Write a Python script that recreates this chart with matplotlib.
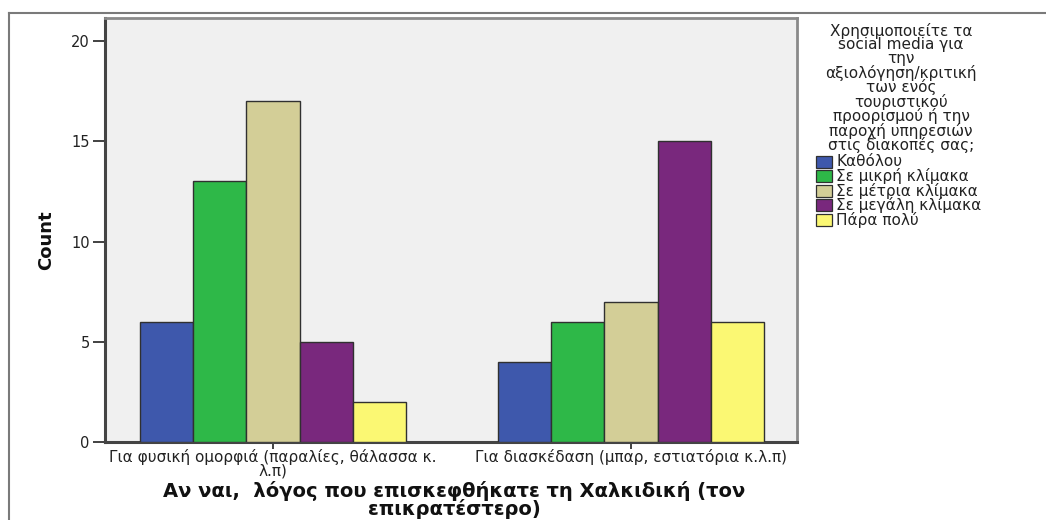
import matplotlib
matplotlib.use("Agg")
import matplotlib.pyplot as plt
from matplotlib.patches import Rectangle
from matplotlib.lines import Line2D
import numpy as np

plt.rcParams['font.family'] = ['DejaVu Sans']

categories = [
    "Για φυσική ομορφιά (παραλίες, θάλασσα κ.\nλ.π)",
    "Για διασκέδαση (μπαρ, εστιατόρια κ.λ.π)",
]
series_names = ["Καθόλου", "Σε μικρή κλίμακα", "Σε μέτρια κλίμακα",
                "Σε μεγάλη κλίμακα", "Πάρα πολύ"]
counts = [
    [6, 4],    # Καθόλου
    [13, 6],   # Σε μικρή κλίμακα
    [17, 7],   # Σε μέτρια κλίμακα
    [5, 15],   # Σε μεγάλη κλίμακα
    [2, 6],    # Πάρα πολύ
]
colors = ["#3e58ac", "#2eb848", "#d3ce97", "#79287d", "#fbf873"]
yticks = [0, 5, 10, 15, 20]

legend_title = ("Χρησιμοποιείτε τα\nsocial media για\nτην\nαξιολόγηση/κριτική\n"
                "των ενός\nτουριστικού\nπροορισμού ή την\nπαροχή υπηρεσιών\n"
                "στις διακοπές σας;")
x_title = "Αν ναι,  λόγος που επισκεφθήκατε τη Χαλκιδική (τον\nεπικρατέστερο)"

W, H = 1046, 520
fig = plt.figure(figsize=(W / 100, H / 100), dpi=100)
fig.patch.set_facecolor("white")


def fx(px):
    return px / W


def fy(py):
    return 1 - py / H


# outer chart frame (left and top edges)
frame_c = "#7a7a7a"
fig.add_artist(Line2D([fx(9), fx(9)], [0, fy(13)], transform=fig.transFigure,
                      color=frame_c, lw=1.5))
fig.add_artist(Line2D([fx(9), 1], [fy(13), fy(13)], transform=fig.transFigure,
                      color=frame_c, lw=1.5))

ax = fig.add_axes([fx(105), fy(442), (797 - 105) / W, (442 - 18) / H])
ax.set_facecolor("#f0f0f0")

x = np.arange(len(categories))
bw = 0.149
n = len(series_names)
for i, (name, vals, c) in enumerate(zip(series_names, counts, colors)):
    offs = (i - (n - 1) / 2) * bw
    ax.bar(x + offs, vals, width=bw, color=c, edgecolor="#303030",
           linewidth=1.0, label=name, zorder=3)

ax.set_xlim(-0.469, 1.464)
ax.set_ylim(0, 21.15)
ax.set_yticks(yticks)
ax.set_yticklabels([str(v) for v in yticks], fontsize=10.5, color="#222222")
ax.set_xticks(x)
ax.set_xticklabels(categories, fontsize=11, color="#222222", linespacing=0.85)

ax.tick_params(axis="y", length=9, width=1.3, color="#333333", pad=2, direction="out")
ax.tick_params(axis="x", length=5, width=1.3, color="#333333", pad=0, direction="out")

for side in ("left", "bottom"):
    ax.spines[side].set_color("#444444")
    ax.spines[side].set_linewidth(2.2)
for side in ("top", "right"):
    ax.spines[side].set_color("#8a8a8a")
    ax.spines[side].set_linewidth(2.0)

# axis titles
fig.text(fx(46), fy(240), "Count", rotation=90, ha="center", va="center",
         fontsize=13, fontweight="bold", family=["Liberation Sans Narrow", "DejaVu Sans"],
         color="#111111")
fig.text(fx(454), fy(500), x_title, ha="center", va="center",
         fontsize=14, fontweight="bold", color="#111111", linespacing=0.86)

# legend title
fig.text(fx(901), fy(88), legend_title, ha="center", va="center",
         fontsize=11, color="#222222", linespacing=0.89)

# legend entries
row_y = 162
for name, c in zip(series_names, colors):
    fig.add_artist(Rectangle((fx(816), fy(row_y + 6)), 16 / W, 12 / H,
                             transform=fig.transFigure, facecolor=c,
                             edgecolor="#303030", linewidth=0.9))
    fig.text(fx(836), fy(row_y), name, ha="left", va="center",
             fontsize=11, color="#222222")
    row_y += 14.4

fig.savefig("out.png", dpi=100, facecolor="white")
